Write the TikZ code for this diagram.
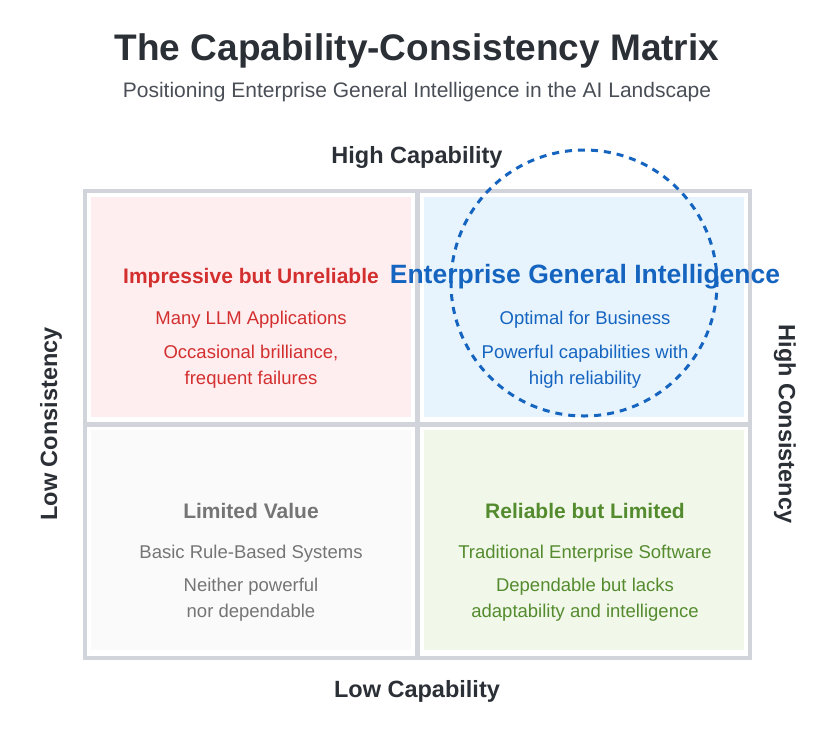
\documentclass[tikz,border=0pt]{standalone}
\usepackage{fontspec}
\setmainfont{Liberation Sans}
\definecolor{framegray}{HTML}{D1D5DB}
\definecolor{darktext}{HTML}{2B2F36}
\definecolor{subgray}{HTML}{4A4F57}
\definecolor{hotred}{HTML}{D32F2F}
\definecolor{hotfill}{HTML}{FFEEF0}
\definecolor{egiblue}{HTML}{1565C0}
\definecolor{egifill}{HTML}{E8F4FD}
\definecolor{okgreen}{HTML}{558B2F}
\definecolor{okfill}{HTML}{F1F8E9}
\definecolor{lowgray}{HTML}{757575}
\definecolor{lowfill}{HTML}{FAFAFA}
\begin{document}
\begin{tikzpicture}
[
    x=1pt, y=-1pt,
    quadrant/.style={rectangle, minimum width=320, minimum height=220, inner sep=0},
    heading/.style={anchor=base, inner sep=0, font=\fontsize{21}{25}\selectfont\bfseries},
    note/.style={anchor=base, inner sep=0, font=\fontsize{18.5}{22}\selectfont},
    axislabel/.style={inner sep=0, text=darktext, font=\fontsize{23.5}{28}\selectfont\bfseries}
]
    \fill [white] (0,0) rectangle (834,752);
    \useasboundingbox (0,0) rectangle (834,752);

    % title
    \node (title) [anchor=base, inner sep=0, text=darktext, font=\fontsize{37}{44}\selectfont\bfseries] at (417,60) {The Capability-Consistency Matrix};
    \node (subtitle) [anchor=base, inner sep=0, text=subgray, font=\fontsize{21}{25}\selectfont] at (417,97) {Positioning Enterprise General Intelligence in the AI Landscape};

    % quadrants
    \node (tl) [quadrant, fill=hotfill] at (251,307) {};
    \node (tr) [quadrant, fill=egifill] at (584,307) {};
    \node (bl) [quadrant, fill=lowfill] at (251,540) {};
    \node (br) [quadrant, fill=okfill] at (584,540) {};

    % frame and dividers
    \node (frame) [draw=framegray, line width=4, minimum width=665.5, minimum height=466.5, inner sep=0] at (417.25,424.25) {};
    \draw [framegray, line width=4.5] (frame.north) -- (frame.south);
    \draw [framegray, line width=4.5] (frame.west) -- (frame.east);

    % axis labels
    \node (highcap) [axislabel] at (417,157) {High Capability};
    \node (lowcap) [axislabel] at (417,691) {Low Capability};
    \node (lowcon) [axislabel, rotate=90] at (51,424) {Low Consistency};
    \node (highcon) [axislabel, rotate=-90] at (785,424) {High Consistency};

    % top left
    \node (tl head) [heading, text=hotred] at (251,283) {Impressive but Unreliable};
    \node (tl kind) [note, text=hotred] at (251,324) {Many LLM Applications};
    \node (tl note1) [note, text=hotred] at (251,358) {Occasional brilliance,};
    \node (tl note2) [note, text=hotred] at (251,384) {frequent failures};

    % top right
    \node (tr head) [heading, text=egiblue, font=\fontsize{26.5}{31}\selectfont\bfseries] at (585,283) {Enterprise General Intelligence};
    \node (tr kind) [note, text=egiblue] at (585,324) {Optimal for Business};
    \node (tr note1) [note, text=egiblue] at (585,358) {Powerful capabilities with};
    \node (tr note2) [note, text=egiblue] at (585,384) {high reliability};

    % bottom left
    \node (bl head) [heading, text=lowgray] at (251,518) {Limited Value};
    \node (bl kind) [note, text=lowgray] at (251,558) {Basic Rule-Based Systems};
    \node (bl note1) [note, text=lowgray] at (251,591) {Neither powerful};
    \node (bl note2) [note, text=lowgray] at (251,617) {nor dependable};

    % bottom right
    \node (br head) [heading, text=okgreen] at (585,518) {Reliable but Limited};
    \node (br kind) [note, text=okgreen] at (585,558) {Traditional Enterprise Software};
    \node (br note1) [note, text=okgreen] at (585,591) {Dependable but lacks};
    \node (br note2) [note, text=okgreen] at (585,617) {adaptability and intelligence};

    % sweet spot
    \node (egi) [circle, draw=egiblue, line width=3, dash pattern=on 7 off 6, minimum size=266, inner sep=0] at (584,283) {};
\end{tikzpicture}
\end{document}
